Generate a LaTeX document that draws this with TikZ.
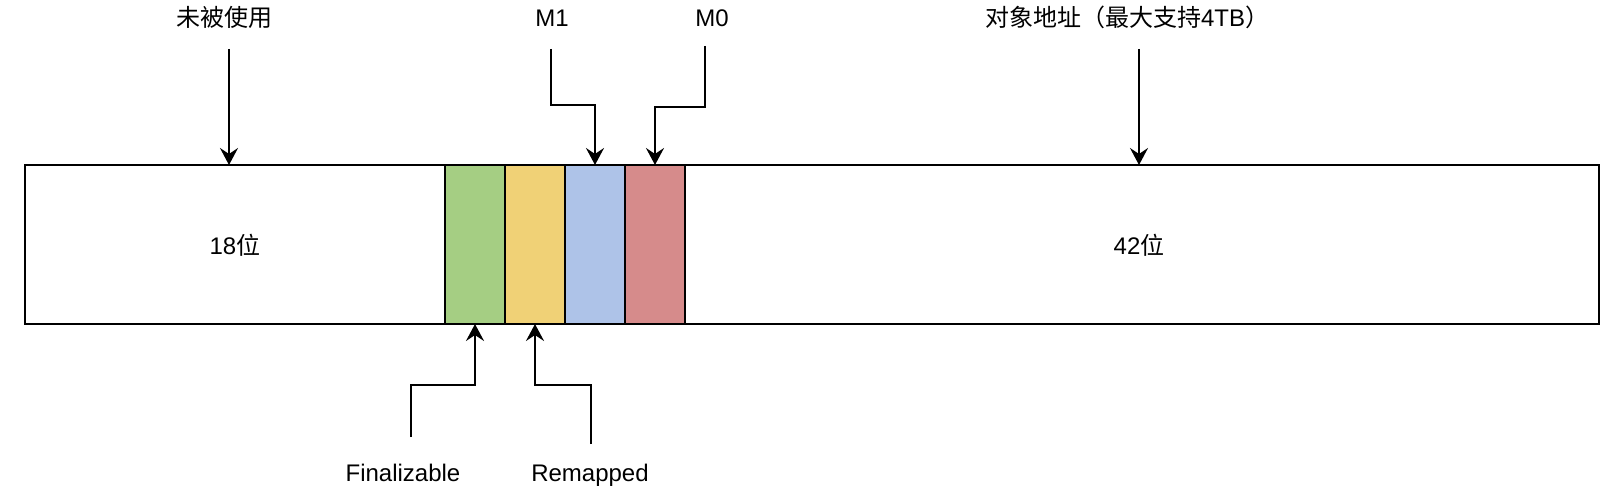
\documentclass[tikz,border=0pt]{standalone}
\usepackage{fontspec}
\setmainfont{Liberation Sans}
\newfontfamily\cjk{Noto Sans CJK SC}
\usetikzlibrary{arrows.meta}
\definecolor{cgreen}{HTML}{A5CE83}
\definecolor{cyellow}{HTML}{F0D176}
\definecolor{cblue}{HTML}{AEC3E8}
\definecolor{cred}{HTML}{D68B8B}
\begin{document}
\begin{tikzpicture}[x=1pt,y=-1pt,
  lbl/.style={inner sep=0pt, anchor=base, font=\fontsize{24pt}{28pt}\selectfont},
  field/.style={draw=black, line width=2.5pt, inner sep=0pt, outer sep=0pt, anchor=north west, minimum height=159pt},
  conn/.style={draw=black, line width=2pt, -{Stealth[length=17pt,width=18pt,inset=6pt]}}
]
\useasboundingbox (0,0) rectangle (1614,494);
% fields
\node[field, minimum width=420pt] (unused) at (25,165) {};
\node[field, fill=cgreen, minimum width=60pt] (fin) at (445,165) {};
\node[field, fill=cyellow, minimum width=60pt] (rem) at (505,165) {};
\node[field, fill=cblue, minimum width=60pt] (m1) at (565,165) {};
\node[field, fill=cred, minimum width=60pt] (m0) at (625,165) {};
\node[field, minimum width=914pt] (addr) at (685,165) {};
% field texts
\node[lbl] (t18) at (235,255) {18{\cjk 位}};
\node[lbl] (t42) at (1139,255) {42{\cjk 位}};
% labels
\node[lbl] (lunused) at (224,27) {\cjk 未被使用};
\node[lbl] (lm1) at (552,27) {M1};
\node[lbl] (lm0) at (712,27) {M0};
\node[lbl] (laddr) at (1127,27) {{\cjk 对象地址（最大支持}4TB{\cjk ）}};
\node[lbl] (lfin) at (403,481) {Finalizable};
\node[lbl] (lrem) at (590,481) {Remapped};
% connector free ends
\coordinate (sunused) at (229,49);
\coordinate (sm1) at (551,49);
\coordinate (sm0) at (705,46);
\coordinate (saddr) at (1139,49);
\coordinate (sfin) at (411,437);
\coordinate (srem) at (591,444);
% connectors
\draw[conn] (sunused) -- (sunused |- unused.north);
\draw[conn] (saddr) -- (saddr |- addr.north);
\draw[conn] (sm1) -- (sm1 |- 0,105) -| (m1.north);
\draw[conn] (sm0) -- (sm0 |- 0,107) -| (m0.north);
\draw[conn] (sfin) -- (sfin |- 0,385) -| (fin.south);
\draw[conn] (srem) -- (srem |- 0,385) -| (rem.south);
\end{tikzpicture}
\end{document}
